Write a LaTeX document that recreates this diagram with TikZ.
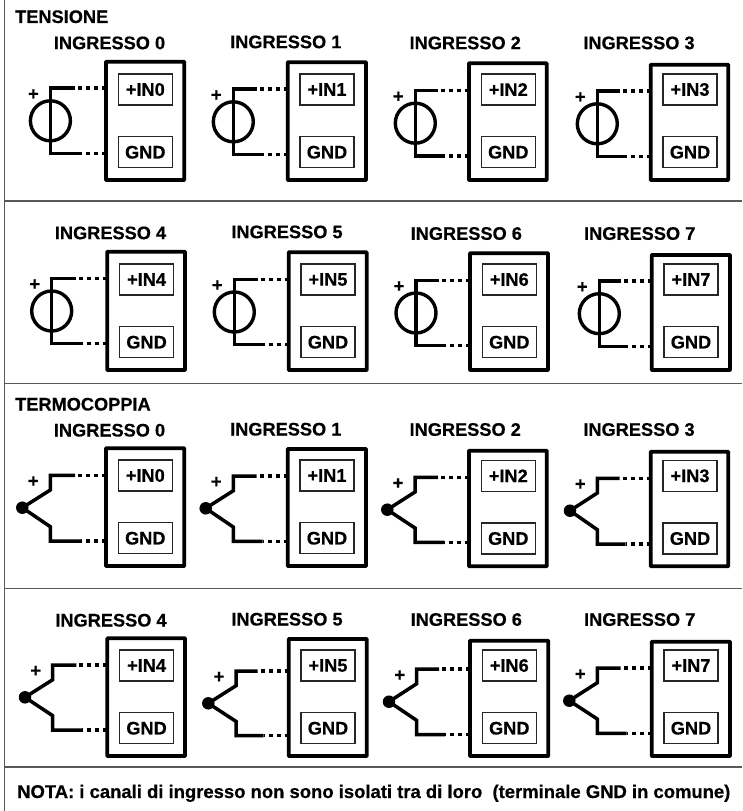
\documentclass[tikz,border=0pt]{standalone}
\usepackage{fontspec}
\setmainfont{Liberation Sans}[BoldFeatures={FakeBold=0.5}]
\tikzset{
  heading/.style={anchor=base west,inner sep=0pt,font=\bfseries\fontsize{18.2}{20}\selectfont,text=black},
  chanlabel/.style={anchor=base,inner sep=0pt,font=\bfseries\fontsize{18.2}{20}\selectfont,text=black},
  plusmark/.style={inner sep=0pt,font=\bfseries\fontsize{18.2}{20}\selectfont},
  outerbox/.style={draw=black,line width=3.8pt,rounded corners=0.6pt,inner sep=0pt,outer sep=0pt,minimum height=#1,text width=0pt},
  outerbox/.default=118pt,
  pinbox/.style={draw=black!85,line width=1.5pt,inner sep=0pt,outer sep=0pt,minimum width=54pt,minimum height=31pt,font=\bfseries\fontsize{18.2}{20}\selectfont,text=black},
  wire/.style={line width=3.5pt,line join=miter},
  dotted wire/.style={line width=3.5pt,dash pattern=on 4pt off 4pt},
  source/.style={circle,draw=black,line width=3.4pt,inner sep=0pt,outer sep=0pt,minimum size=40pt},
  junction/.style={circle,fill=black,inner sep=0pt,outer sep=0pt,minimum size=12.5pt},
  divider/.style={draw=black!65,line width=1.5pt}
}
% id, channel, box left, box top, box bottom, box width, label x, label y (centre)
\newcommand{\chanunit}[8]{%
  \pgfmathsetmacro{\myCx}{#3+#6/2}
  \pgfmathsetmacro{\myCy}{(#4+#5)/2}
  \pgfmathsetmacro{\myH}{#5-#4}
  \pgfmathsetmacro{\myPy}{#5-90.5}
  \pgfmathsetmacro{\myGy}{#5-27.8}
  \pgfmathsetmacro{\myIx}{#3+39.3}
  \pgfmathsetmacro{\myLy}{#8+6.5}
  \node[outerbox=\myH pt,minimum width=#6pt] (box#1) at (\myCx,\myCy) {};
  \node[pinbox] (pos#1) at (\myIx,\myPy) {+IN#2};
  \node[pinbox] (gnd#1) at (\myIx,\myGy) {GND};
  \node[chanlabel] (lab#1) at (#7,\myLy) {INGRESSO #2};
}
% id, box left, wire x, top y, bottom y
\newcommand{\leads}[5]{%
  \coordinate (ta#1) at (#3,#4);
  \coordinate (tb#1) at (#2-31,#4);
  \coordinate (ba#1) at (#3,#5);
  \coordinate (bb#1) at (#2-25,#5);
  \draw[dotted wire] (box#1.west |- ta#1) -- (tb#1);
  \draw[dotted wire] (box#1.west |- ba#1) -- (bb#1);
}
% id, box left, wire x, circle y
\newcommand{\voltunit}[4]{%
  \pgfmathsetmacro{\myTy}{#4-32.6}
  \pgfmathsetmacro{\myBy}{#4+32.6}
  \pgfmathsetmacro{\myPx}{#3-17}
  \pgfmathsetmacro{\myPpy}{#4-26.2}
  \node[source] (src#1) at (#3,#4) {};
  \leads{#1}{#2}{#3}{\myTy}{\myBy}
  \draw[wire] (tb#1) -- (ta#1) -- (ba#1) -- (bb#1);
  \node[plusmark] (plus#1) at (\myPx,\myPpy) {+};
}
% id, box left, wire x, dot x, dot y, top y, bottom y
\newcommand{\tcunit}[7]{%
  \pgfmathsetmacro{\myTb}{#6+14.7}
  \pgfmathsetmacro{\myBb}{#7-14.3}
  \pgfmathsetmacro{\myPx}{#3-17}
  \pgfmathsetmacro{\myPpy}{#5-26}
  \node[junction] (dot#1) at (#4,#5) {};
  \leads{#1}{#2}{#3}{#6}{#7}
  \draw[wire] (tb#1) -- (ta#1) -- (#3,\myTb) -- (dot#1.center) -- (#3,\myBb) -- (ba#1) -- (bb#1);
  \node[plusmark] (plus#1) at (\myPx,\myPpy) {+};
}
\begin{document}
\begin{tikzpicture}[x=1pt,y=-1pt]
  \useasboundingbox (0,0) rectangle (742,811);
  \coordinate (ftop) at (4.5,0);
  \coordinate (fbot) at (4.5,811);
  \draw[divider] (ftop) -- (fbot);
  \foreach \yy/\nn in {201/a,383.3/b,588.3/c,767/d}{
    \coordinate (dl\nn) at (4.5,\yy);
    \coordinate (dr\nn) at (742,\yy);
    \draw[divider] (dl\nn) -- (dr\nn);
  }
  \node[heading] (tens) at (15,23) {TENSIONE};
  \node[heading] (term) at (15,410.5) {TERMOCOPPIA};
  \node[heading,font=\bfseries\fontsize{18.45}{20}\selectfont] (nota) at (17,798) {NOTA: i canali di ingresso non sono isolati tra di loro\ \ (terminale GND in comune)};

  % TENSIONE 0-3
  \chanunit{A0}{0}{106}{61.7}{180}{78.3}{109.5}{42.7}
  \chanunit{A1}{1}{287.7}{62.3}{180}{78.3}{285.8}{41.7}
  \chanunit{A2}{2}{469}{63.3}{180}{77.7}{465.2}{42.7}
  \chanunit{A3}{3}{650.7}{64.7}{180}{77.6}{639}{42.7}
  \voltunit{A0}{106}{50.4}{120.8}
  \voltunit{A1}{287.7}{233.3}{121.8}
  \voltunit{A2}{469}{415.3}{123.2}
  \voltunit{A3}{650.7}{597.3}{123.8}

  % TENSIONE 4-7
  \chanunit{B4}{4}{107.3}{251.7}{370}{77.7}{110.5}{232.7}
  \chanunit{B5}{5}{288.7}{252.3}{370}{78}{287}{231.7}
  \chanunit{B6}{6}{470}{253.3}{370}{78}{466.3}{233.3}
  \chanunit{B7}{7}{651.7}{255}{370}{78.3}{639.7}{233.3}
  \voltunit{B4}{107.3}{51.7}{311}
  \voltunit{B5}{288.7}{234.3}{312}
  \voltunit{B6}{470}{416}{313}
  \voltunit{B7}{651.7}{599.3}{313.7}

  % TERMOCOPPIA 0-3
  \chanunit{C0}{0}{106}{448.3}{566}{78.3}{109.5}{430}
  \chanunit{C1}{1}{287.7}{449}{566}{78.3}{285.8}{429}
  \chanunit{C2}{2}{469}{450.7}{566.3}{77.7}{465.2}{429.3}
  \chanunit{C3}{3}{650.7}{451.7}{566.3}{77.6}{639}{429.3}
  \tcunit{C0}{106}{50.3}{22.3}{507.7}{475.3}{541}
  \tcunit{C1}{287.7}{233.3}{205.7}{508.3}{476}{541.3}
  \tcunit{C2}{469}{415}{387.3}{509.7}{477.3}{542.3}
  \tcunit{C3}{650.7}{597.3}{570}{510.7}{478.3}{544}

  % TERMOCOPPIA 4-7
  \chanunit{D4}{4}{107.3}{638.3}{756}{77.7}{111}{620}
  \chanunit{D5}{5}{288.7}{639}{756}{78}{287}{619}
  \chanunit{D6}{6}{470}{640.7}{756}{78.3}{466.3}{619.3}
  \chanunit{D7}{7}{651.7}{641.7}{756}{78.3}{639.7}{619.3}
  \tcunit{D4}{107.3}{52.7}{25}{697.3}{665}{730}
  \tcunit{D5}{288.7}{236}{208.3}{703.3}{671}{735.7}
  \tcunit{D6}{470}{416.7}{389}{701.7}{669}{734.7}
  \tcunit{D7}{651.7}{597.3}{569.3}{700.7}{668}{733.3}
\end{tikzpicture}
\end{document}
